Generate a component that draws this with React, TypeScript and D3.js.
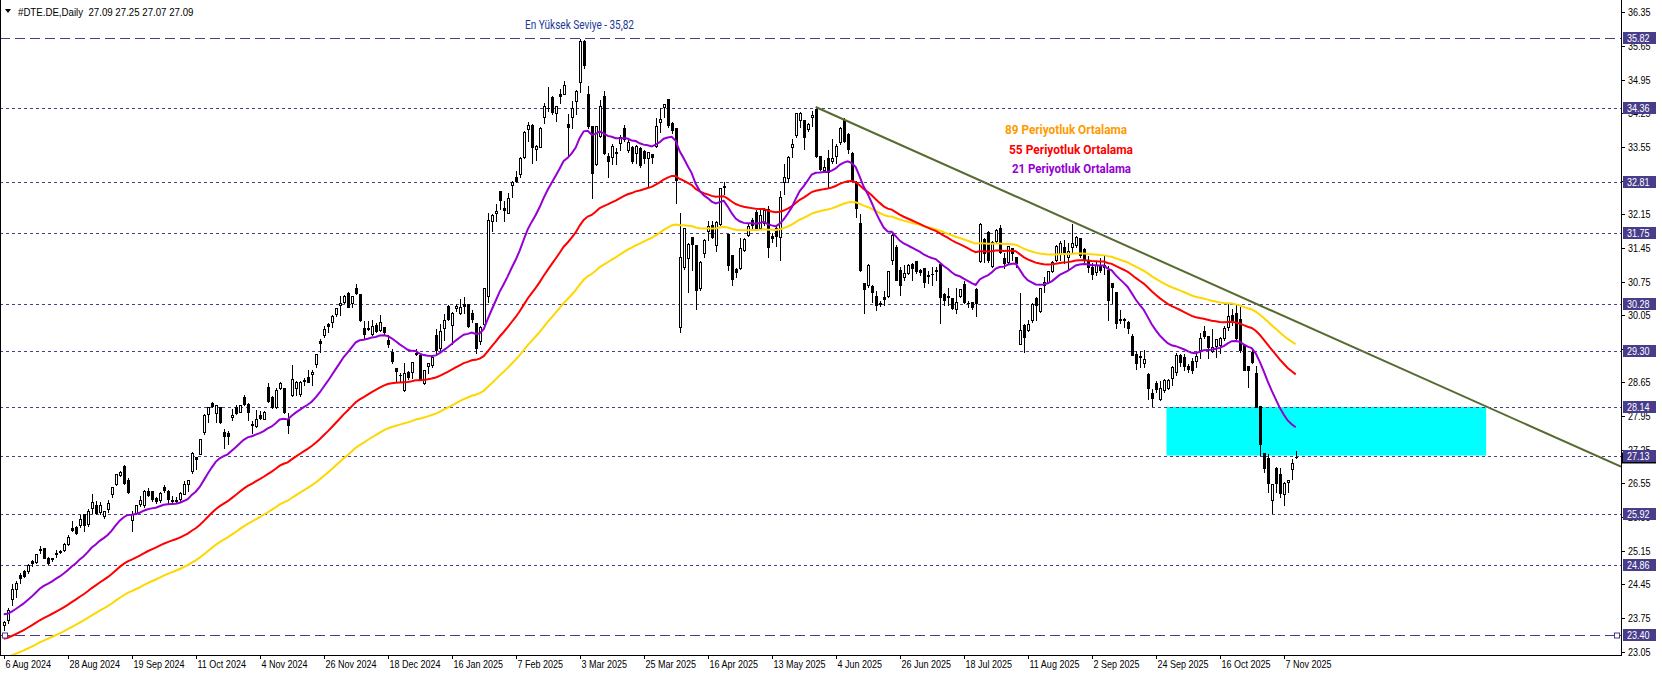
import React from "react";
import * as d3 from "d3";

// ---------- DATA ----------
const opens = [
  23.60, 23.71, 24.14, 24.36, 24.65, 24.73, 24.73, 24.93, 24.92, 25.17,
  25.20, 25.00, 24.98, 25.08, 25.13, 25.16, 25.29, 25.63, 25.65, 25.68,
  25.91, 25.70, 26.03, 26.10, 25.96, 25.87, 26.01, 26.34, 26.54, 26.73,
  26.91, 26.63, 25.79, 25.94, 26.13, 26.10, 26.39, 26.39, 26.25, 26.20,
  26.47, 26.39, 26.20, 26.19, 26.22, 26.34, 26.53, 26.81, 27.09, 27.17,
  27.63, 28.00, 28.23, 28.02, 28.15, 27.61, 27.59, 27.94, 28.15, 28.04,
  28.35, 28.21, 27.78, 27.75, 27.97, 27.90, 28.55, 28.35, 28.13, 28.54,
  28.53, 27.90, 28.39, 28.53, 28.40, 28.69, 28.77, 28.82, 29.03, 29.52,
  29.64, 29.86, 29.90, 30.07, 30.26, 30.33, 30.52, 30.30, 30.62, 30.50,
  29.78, 29.77, 29.65, 29.85, 29.74, 29.81, 29.53, 29.29, 28.96, 28.81,
  28.49, 28.87, 28.87, 29.26, 29.22, 28.63, 29.00, 29.01, 29.64, 29.36,
  29.78, 30.24, 29.85, 30.19, 30.10, 30.28, 30.28, 30.10, 29.88, 29.52,
  29.87, 30.45, 32.00, 32.18, 32.63, 32.27, 32.18, 32.76, 32.93, 32.99,
  33.33, 33.92, 34.01, 33.50, 33.55, 34.17, 34.36, 34.58, 34.26, 34.65,
  34.66, 34.03, 34.18, 34.51, 34.91, 35.76, 34.65, 33.98, 33.20, 33.78,
  34.61, 33.36, 33.33, 33.45, 33.64, 33.94, 33.49, 33.55, 33.43, 33.52,
  33.47, 33.31, 33.40, 33.57, 34.07, 34.37, 34.54, 34.05, 33.94, 29.80,
  31.06, 31.23, 31.67, 31.51, 30.61, 31.35, 31.81, 31.93, 31.51, 31.95,
  32.74, 31.74, 31.30, 31.02, 31.04, 31.41, 31.72, 32.04, 32.20, 31.86,
  31.96, 32.25, 31.70, 31.86, 31.67, 32.83, 32.90, 33.54, 33.80, 34.10,
  34.11, 33.92, 34.18, 34.33, 33.36, 33.07, 33.31, 33.26, 33.36, 33.66,
  34.10, 33.82, 33.43, 32.83, 31.97, 30.71, 30.68, 30.66, 30.45, 30.29,
  30.42, 30.45, 31.20, 31.46, 31.00, 30.84, 30.93, 31.11, 31.18, 30.98,
  31.04, 30.86, 30.90, 31.00, 31.11, 30.50, 30.42, 30.40, 30.17, 30.45,
  30.70, 30.31, 30.33, 30.59, 31.18, 31.63, 31.77, 31.07, 31.60, 31.86,
  31.23, 31.16, 31.44, 31.25, 29.46, 29.84, 29.74, 29.94, 30.40, 30.14,
  30.68, 30.75, 30.97, 31.20, 31.32, 31.46, 31.26, 31.46, 31.51, 31.65,
  31.42, 31.20, 31.05, 30.95, 31.10, 31.05, 31.00, 30.71, 30.54, 29.98,
  29.97, 29.91, 29.62, 29.24, 29.20, 29.06, 28.83, 28.44, 28.63, 28.30,
  28.49, 28.53, 28.74, 28.87, 29.22, 29.17, 28.99, 29.10, 29.10, 29.33,
  29.73, 29.62, 29.31, 29.41, 29.43, 29.57, 29.80, 30.05, 30.09, 29.98,
  29.43, 28.99, 29.29, 28.84, 28.16, 27.18, 27.07, 26.20, 26.88, 26.75,
  26.34, 26.59, 26.84, 27.09,
];
const highs = [
  23.70, 23.99, 24.47, 24.55, 24.71, 24.77, 24.89, 24.97, 25.11, 25.26,
  25.23, 25.04, 25.02, 25.18, 25.18, 25.34, 25.50, 25.79, 25.68, 25.91,
  25.94, 26.03, 26.36, 26.20, 26.18, 25.99, 26.22, 26.50, 26.77, 26.83,
  26.95, 26.68, 25.99, 26.13, 26.31, 26.43, 26.47, 26.41, 26.29, 26.40,
  26.53, 26.43, 26.31, 26.29, 26.40, 26.62, 26.65, 27.23, 27.11, 27.47,
  28.01, 28.16, 28.26, 28.20, 28.17, 27.71, 27.66, 28.11, 28.20, 28.21,
  28.40, 28.25, 27.87, 28.10, 28.08, 28.08, 28.65, 28.39, 28.56, 28.68,
  28.56, 28.04, 29.03, 28.70, 28.70, 28.77, 28.94, 28.94, 29.26, 29.57,
  29.84, 29.90, 30.07, 30.23, 30.48, 30.50, 30.55, 30.48, 30.71, 30.52,
  29.95, 29.95, 29.98, 29.91, 30.07, 29.83, 29.65, 29.36, 28.98, 28.86,
  29.07, 28.91, 29.10, 29.36, 29.28, 28.94, 29.07, 29.22, 29.78, 29.88,
  30.09, 30.28, 30.14, 30.31, 30.40, 30.45, 30.31, 30.17, 29.91, 29.84,
  30.64, 32.20, 32.17, 32.38, 32.65, 32.45, 32.62, 32.87, 33.08, 33.36,
  33.90, 34.08, 34.04, 33.61, 33.98, 34.49, 34.82, 34.63, 34.42, 34.77,
  34.94, 34.25, 34.53, 34.75, 35.82, 35.79, 34.84, 34.00, 34.00, 34.54,
  34.73, 33.45, 33.64, 33.54, 33.82, 34.03, 33.73, 33.59, 33.61, 33.57,
  33.50, 33.47, 33.43, 34.18, 34.39, 34.47, 34.56, 34.08, 33.97, 32.20,
  31.89, 31.58, 31.68, 31.54, 31.20, 31.65, 32.04, 32.03, 32.04, 32.72,
  32.85, 31.75, 31.33, 31.06, 31.68, 31.68, 31.97, 32.10, 32.25, 32.31,
  32.31, 32.34, 31.79, 31.93, 32.65, 33.21, 33.38, 33.73, 34.28, 34.30,
  34.12, 34.07, 34.32, 34.36, 33.38, 33.29, 33.50, 33.73, 33.64, 33.98,
  34.18, 33.85, 33.47, 32.86, 32.17, 30.73, 31.13, 30.69, 30.57, 30.36,
  30.57, 31.00, 31.76, 31.54, 31.07, 31.11, 31.14, 31.16, 31.18, 31.04,
  31.06, 30.99, 31.07, 31.07, 31.13, 30.54, 30.63, 30.42, 30.64, 30.61,
  30.79, 30.36, 30.35, 30.63, 31.99, 31.68, 31.82, 31.61, 31.86, 31.95,
  31.37, 31.51, 31.47, 31.27, 30.54, 29.88, 29.98, 30.33, 30.45, 30.64,
  30.86, 31.00, 31.20, 31.53, 31.61, 31.63, 31.58, 31.97, 31.72, 31.68,
  31.46, 31.30, 31.15, 31.20, 31.25, 31.30, 31.10, 30.75, 30.56, 30.17,
  30.02, 29.95, 29.67, 29.32, 29.32, 29.34, 28.87, 28.53, 28.71, 28.71,
  28.74, 28.74, 29.01, 29.29, 29.26, 29.26, 29.05, 29.17, 29.29, 29.71,
  29.85, 29.64, 29.78, 29.57, 29.62, 29.85, 30.30, 30.19, 30.30, 30.24,
  29.45, 29.01, 29.39, 29.01, 28.18, 27.19, 27.19, 26.55, 26.91, 26.90,
  26.61, 26.65, 27.07, 27.25,
];
const lows = [
  23.50, 23.64, 24.02, 24.19, 24.47, 24.61, 24.69, 24.83, 24.90, 25.11,
  24.99, 24.87, 24.94, 25.02, 25.10, 25.14, 25.27, 25.57, 25.50, 25.65,
  25.57, 25.66, 25.93, 25.91, 25.91, 25.84, 25.96, 26.26, 26.52, 26.70,
  26.54, 26.36, 25.57, 25.91, 26.08, 26.05, 26.29, 26.19, 26.15, 26.17,
  26.38, 26.15, 26.14, 26.14, 26.19, 26.33, 26.40, 26.77, 26.86, 27.16,
  27.58, 27.83, 28.15, 27.83, 27.80, 27.29, 27.38, 27.87, 27.99, 28.03,
  28.18, 27.87, 27.59, 27.73, 27.90, 27.89, 28.24, 28.11, 28.11, 28.51,
  28.01, 27.59, 28.37, 28.39, 28.37, 28.60, 28.65, 28.60, 28.98, 29.28,
  29.60, 29.71, 29.81, 30.04, 30.05, 30.30, 30.21, 30.23, 30.50, 29.93,
  29.57, 29.74, 29.64, 29.69, 29.72, 29.64, 29.39, 29.05, 28.67, 28.67,
  28.47, 28.73, 28.75, 29.22, 28.72, 28.61, 28.84, 28.98, 29.26, 29.33,
  29.53, 29.95, 29.46, 30.14, 30.07, 30.10, 29.81, 29.91, 29.26, 29.46,
  29.85, 30.33, 31.81, 32.00, 32.25, 32.00, 32.17, 32.51, 32.83, 32.93,
  33.31, 33.68, 33.22, 33.28, 33.54, 34.04, 34.30, 34.23, 34.08, 34.46,
  34.65, 33.35, 33.94, 34.23, 34.70, 35.20, 33.94, 32.48, 33.17, 33.75,
  33.40, 32.92, 33.20, 33.20, 33.49, 33.68, 33.45, 33.22, 33.21, 33.14,
  33.21, 32.72, 33.21, 33.54, 33.85, 34.17, 33.97, 33.83, 32.38, 29.70,
  31.02, 30.54, 30.99, 30.17, 30.57, 31.27, 31.61, 31.65, 31.39, 31.93,
  32.58, 31.00, 30.68, 30.85, 31.02, 31.39, 31.70, 31.86, 31.82, 31.84,
  31.93, 31.27, 31.58, 31.49, 31.20, 32.58, 32.83, 33.33, 33.76, 33.97,
  33.50, 33.89, 33.98, 33.35, 33.06, 33.03, 32.69, 33.22, 33.22, 33.62,
  33.66, 33.43, 32.85, 32.10, 30.97, 30.09, 30.64, 30.33, 30.16, 30.24,
  30.26, 30.43, 31.11, 30.78, 30.47, 30.78, 30.90, 30.78, 30.93, 30.88,
  30.64, 30.71, 30.68, 30.78, 29.89, 30.26, 30.26, 30.17, 30.10, 30.43,
  30.31, 30.23, 30.17, 30.03, 31.16, 31.16, 31.16, 31.06, 31.56, 31.35,
  31.04, 31.14, 31.20, 31.06, 29.45, 29.29, 29.73, 29.91, 29.95, 30.12,
  30.54, 30.71, 30.95, 31.18, 31.20, 31.13, 30.99, 31.34, 31.47, 31.27,
  31.16, 30.95, 30.80, 30.88, 30.95, 30.90, 29.95, 30.30, 29.78, 29.88,
  29.81, 29.67, 29.22, 28.94, 28.98, 28.98, 28.30, 28.16, 28.46, 28.28,
  28.46, 28.51, 28.60, 28.81, 28.99, 28.91, 28.87, 28.85, 28.98, 29.15,
  29.57, 29.15, 29.29, 29.19, 29.26, 29.53, 29.75, 29.85, 29.55, 29.29,
  28.90, 28.55, 29.05, 28.15, 27.14, 26.79, 26.38, 25.93, 26.38, 26.26,
  26.10, 26.38, 26.65, 27.07,
];
const closes = [
  23.67, 23.91, 24.35, 24.48, 24.58, 24.63, 24.85, 24.89, 25.09, 25.18,
  25.00, 24.90, 24.99, 25.10, 25.14, 25.29, 25.43, 25.58, 25.52, 25.82,
  25.68, 25.98, 26.17, 25.94, 26.11, 25.97, 26.14, 26.47, 26.74, 26.79,
  26.55, 26.38, 25.91, 26.10, 26.20, 26.40, 26.31, 26.22, 26.19, 26.36,
  26.41, 26.22, 26.18, 26.20, 26.36, 26.53, 26.63, 27.18, 27.05, 27.47,
  27.97, 28.14, 28.16, 28.18, 27.83, 27.54, 27.54, 27.98, 28.01, 28.19,
  28.21, 28.03, 27.76, 27.89, 27.92, 28.04, 28.26, 28.15, 28.49, 28.63,
  28.04, 27.76, 28.72, 28.67, 28.67, 28.71, 28.67, 28.87, 29.24, 29.47,
  29.76, 29.83, 30.04, 30.19, 30.31, 30.45, 30.23, 30.45, 30.52, 29.95,
  29.65, 29.78, 29.83, 29.72, 29.90, 29.69, 29.46, 29.10, 28.89, 28.80,
  28.84, 28.77, 29.07, 29.25, 28.73, 28.91, 29.05, 29.19, 29.32, 29.73,
  29.96, 29.98, 30.10, 30.24, 30.23, 30.24, 29.82, 29.98, 29.36, 29.81,
  30.61, 32.04, 32.13, 32.22, 32.45, 32.24, 32.48, 32.83, 32.85, 33.31,
  33.87, 34.01, 33.54, 33.56, 33.95, 34.40, 34.35, 34.28, 34.40, 34.61,
  34.84, 33.96, 34.35, 34.72, 35.75, 35.25, 33.98, 33.01, 33.98, 34.40,
  33.42, 33.26, 33.57, 33.43, 33.75, 33.71, 33.66, 33.26, 33.57, 33.17,
  33.31, 33.45, 33.33, 33.98, 34.14, 34.44, 34.01, 33.90, 32.86, 31.25,
  31.87, 31.53, 31.54, 30.57, 31.16, 31.61, 31.91, 31.68, 31.99, 32.69,
  32.71, 31.09, 30.80, 30.95, 31.44, 31.63, 31.90, 31.93, 31.86, 32.13,
  32.24, 31.47, 31.65, 31.70, 32.50, 32.93, 33.33, 33.61, 34.25, 34.26,
  33.76, 34.03, 34.21, 33.36, 33.10, 33.14, 33.03, 33.31, 33.57, 33.94,
  33.68, 33.50, 32.87, 32.27, 30.99, 30.59, 31.09, 30.54, 30.26, 30.30,
  30.38, 30.97, 31.72, 30.79, 30.68, 30.93, 31.09, 31.04, 30.97, 30.95,
  30.73, 30.88, 30.91, 30.97, 30.43, 30.36, 30.45, 30.19, 30.33, 30.59,
  30.33, 30.30, 30.23, 30.31, 31.94, 31.34, 31.20, 31.58, 31.82, 31.37,
  31.14, 31.49, 31.34, 31.14, 29.74, 29.59, 29.86, 30.28, 30.26, 30.61,
  30.75, 30.97, 31.16, 31.49, 31.56, 31.35, 31.39, 31.56, 31.68, 31.30,
  31.20, 31.05, 30.90, 31.10, 31.00, 31.10, 30.37, 30.64, 29.88, 29.96,
  29.95, 29.78, 29.23, 29.05, 29.17, 29.13, 28.53, 28.32, 28.51, 28.53,
  28.70, 28.71, 28.98, 29.22, 29.08, 28.99, 28.92, 28.91, 29.20, 29.57,
  29.62, 29.38, 29.39, 29.55, 29.57, 29.78, 30.03, 29.95, 29.57, 29.33,
  28.91, 28.91, 29.08, 28.15, 27.38, 26.88, 26.55, 26.54, 26.55, 26.36,
  26.55, 26.63, 26.98, 27.09,
];

const dateTickLabels = [
  "6 Aug 2024", "28 Aug 2024", "19 Sep 2024", "11 Oct 2024", "4 Nov 2024",
  "26 Nov 2024", "18 Dec 2024", "16 Jan 2025", "7 Feb 2025", "3 Mar 2025",
  "25 Mar 2025", "16 Apr 2025", "13 May 2025", "4 Jun 2025", "26 Jun 2025",
  "18 Jul 2025", "11 Aug 2025", "2 Sep 2025", "24 Sep 2025", "16 Oct 2025",
  "7 Nov 2025",
];
const barsPerDateTick = 16;

const priceTicks = [
  36.35, 35.65, 34.95, 34.25, 33.55, 32.85, 32.15, 31.45, 30.75, 30.05,
  29.35, 28.65, 27.95, 27.25, 26.55, 25.85, 25.15, 24.45, 23.75, 23.05,
];
const levelPrices = [35.82, 34.36, 32.81, 31.75, 30.28, 29.3, 28.14, 27.13, 25.92, 24.86, 23.4];
const longDashLevels = [35.82, 23.4];
const lastPrice = 27.09;

const emaPeriods = [89, 55, 21];
const emaStartValues = [22.92, 23.32, 23.83];
const emaColors = ["#FFD700", "#FF0000", "#9400D3"];

const legendTexts = ["89 Periyotluk Ortalama", "55 Periyotluk Ortalama", "21 Periyotluk Ortalama"];
const legendColors = ["#FF9A00", "#FF0000", "#9400D3"];

const trendBars = [203, 404.3];
const trendPrices = [34.38, 26.9];

const zoneBars = [290.7, 370.6];
const zonePrices = [28.14, 27.13];

const maxLabel = "En Yüksek Seviye - 35,82";
const headerText = "#DTE.DE,Daily  27.09 27.25 27.07 27.09";

// ---------- layout ----------
const W = 1662;
const H = 675;
const PLOT_R = 1621;
const PLOT_B = 655;
const LEVEL_COLOR = "#483D8B";
const FONT = "'Liberation Sans', Arial, sans-serif";

function ema(values: number[], period: number, start: number) {
  const a = 2 / (period + 1);
  let e = start;
  return values.map((v, i) => {
    if (i > 0) e = e + a * (v - e);
    return e;
  });
}

function SmallText(props: { x: number; y: number; text: string; fill?: string; sx?: number; size?: number }) {
  const { x, y, text, fill = "#000", sx = 0.82, size = 11 } = props;
  return (
    <text
      transform={`translate(${x},${y}) scale(${sx},1)`}
      fontFamily={FONT}
      fontSize={size}
      fill={fill}
      style={{ whiteSpace: "pre" }}
    >
      {text}
    </text>
  );
}

export default function App() {
  const n = closes.length;
  const x = d3.scaleLinear().domain([0, 1]).range([3.7, 7.7]);
  const y = d3.scaleLinear().domain([23.05, 36.35]).range([651.7, 12.3]);
  const cx = (i: number) => Math.round(x(i)) + 0.5;
  const cy = (p: number) => Math.round(y(p)) + 0.5;

  const emas = emaPeriods.map((p, k) => ema(closes, p, emaStartValues[k]));
  const line = d3
    .line<number>()
    .x((_, i) => x(i))
    .y((d) => y(d));

  const trendLine = d3
    .line<number>()
    .x((_, i) => x(trendBars[i]))
    .y((d) => y(d));

  const candles = d3.range(n).map((i) => {
    const o = opens[i], h = highs[i], l = lows[i], c = closes[i];
    const X = cx(i);
    const bull = c >= o;
    const top = cy(Math.max(o, c));
    const bot = cy(Math.min(o, c));
    return (
      <g key={i}>
        <line x1={X} x2={X} y1={cy(h)} y2={cy(l)} stroke="#000" strokeWidth={1} />
        <rect
          x={X - 1}
          y={top}
          width={2}
          height={Math.max(bot - top, 0.01)}
          fill={bull ? "#fff" : "#000"}
          stroke="#000"
          strokeWidth={1}
        />
      </g>
    );
  });

  return (
    <svg
      width={W}
      height={H}
      style={{ position: "fixed", left: 0, top: 0, background: "#fff", display: "block" }}
    >
      <defs>
        <clipPath id="plotClip">
          <rect x={0} y={0} width={PLOT_R} height={PLOT_B} />
        </clipPath>
      </defs>
      <rect x={0} y={0} width={W} height={H} fill="#fff" />

      <g clipPath="url(#plotClip)">
        {/* zone */}
        <rect
          x={x(zoneBars[0])}
          y={y(zonePrices[0])}
          width={x(zoneBars[1]) - x(zoneBars[0])}
          height={y(zonePrices[1]) - y(zonePrices[0])}
          fill="#00FFFF"
        />
        {/* level lines */}
        {levelPrices.map((p) => (
          <line
            key={p}
            x1={0}
            x2={PLOT_R}
            y1={cy(p)}
            y2={cy(p)}
            stroke={LEVEL_COLOR}
            strokeWidth={1}
            strokeDasharray={longDashLevels.includes(p) ? "10,5" : "3,3"}
            shapeRendering="crispEdges"
          />
        ))}
        <g shapeRendering="crispEdges">{candles}</g>
        {/* moving averages */}
        {emas.map((vals, k) => (
          <path key={k} d={line(vals) || ""} fill="none" stroke={emaColors[k]} strokeWidth={2} />
        ))}
        {/* trend line */}
        <path d={trendLine(trendPrices) || ""} fill="none" stroke="#556B2F" strokeWidth={2} />
        {/* anchor squares */}
        <rect x={2.5} y={cy(23.4) - 2.5} width={5} height={5} fill="#fff" stroke={LEVEL_COLOR} />
        <rect x={1614.5} y={cy(23.4) - 2.5} width={5} height={5} fill="#fff" stroke={LEVEL_COLOR} />
      </g>

      {/* header */}
      <path d="M5,9 L11,9 L8,13 Z" fill="#000" />
      <SmallText x={18} y={16} text={headerText} sx={0.88} />

      {/* max label */}
      <text
        x={525}
        y={29}
        fontFamily="Roboto, 'Liberation Sans', sans-serif"
        fontSize={12}
        fill="#1C3A94"
        textLength={109}
        lengthAdjust="spacingAndGlyphs"
      >
        {maxLabel}
      </text>

      {/* legend */}
      {legendTexts.map((t, k) => (
        <text
          key={t}
          x={[1005, 1009, 1012][k]}
          y={[134, 154, 173][k]}
          fontFamily="Roboto, 'Liberation Sans', sans-serif"
          fontWeight="bold"
          fontSize={13}
          fill={legendColors[k]}
          textLength={[122, 124, 119][k]}
          lengthAdjust="spacingAndGlyphs"
        >
          {t}
        </text>
      ))}

      {/* axes frame */}
      <g shapeRendering="crispEdges" stroke="#000" strokeWidth={1}>
        <line x1={PLOT_R + 0.5} x2={PLOT_R + 0.5} y1={0} y2={PLOT_B + 1} />
        <line x1={0} x2={PLOT_R + 1} y1={PLOT_B + 0.5} y2={PLOT_B + 0.5} />
        <line x1={0.5} x2={0.5} y1={0} y2={PLOT_B + 1} />
      </g>

      {/* price ticks */}
      {priceTicks.map((p) => (
        <g key={p}>
          <line x1={PLOT_R} x2={PLOT_R + 4} y1={cy(p)} y2={cy(p)} stroke="#000" shapeRendering="crispEdges" />
          <SmallText x={1628} y={y(p) + 4} text={p.toFixed(2)} />
        </g>
      ))}

      {/* date ticks */}
      {dateTickLabels.map((t, k) => {
        const X = cx(k * barsPerDateTick);
        return (
          <g key={t}>
            <line x1={X} x2={X} y1={PLOT_B} y2={PLOT_B + 4} stroke="#000" shapeRendering="crispEdges" />
            <SmallText x={X + 1} y={668} text={t} />
          </g>
        );
      })}

      {/* current price label */}
      <rect x={1622} y={y(lastPrice) - 5} width={34} height={11} fill="#000" />
      <SmallText x={1627} y={y(lastPrice) + 4} text={lastPrice.toFixed(2)} fill="#fff" />

      {/* level labels */}
      {levelPrices.map((p) => (
        <g key={"lb" + p}>
          <rect x={1623} y={Math.round(y(p)) - 6} width={33} height={12} fill={LEVEL_COLOR} />
          <SmallText x={1627} y={y(p) + 4} text={p.toFixed(2)} fill="#fff" />
        </g>
      ))}
    </svg>
  );
}
